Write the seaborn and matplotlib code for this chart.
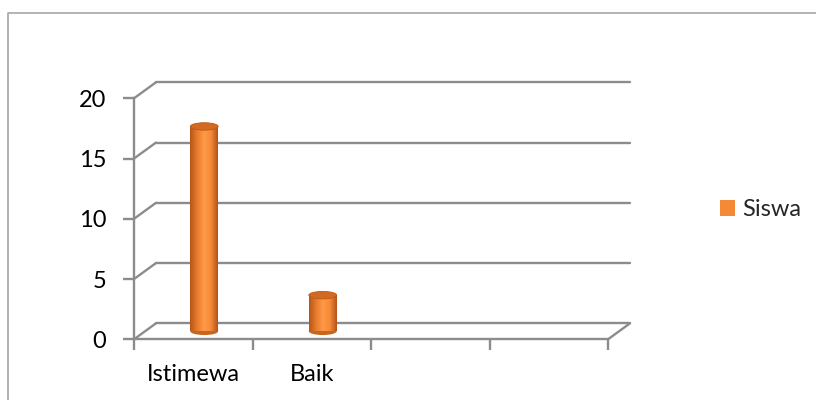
import numpy as np
import pandas as pd
import matplotlib
matplotlib.use("Agg")
import matplotlib.pyplot as plt
import matplotlib.transforms as mtransforms
from matplotlib.colors import LinearSegmentedColormap
from matplotlib.patches import Ellipse, Patch
from matplotlib.lines import Line2D
import seaborn as sns

# ---- data ----
categories = ["Istimewa", "Baik", "", " "]
siswa = [17, 3, np.nan, np.nan]
series_name = "Siswa"
y_ticks = [0, 5, 10, 15, 20]

sns.set_style("white")
plt.rcParams["font.family"] = ["Lato", "DejaVu Sans"]

GRAY = "#8c8c8c"
ORANGE = "#F28A36"
DX, DY = 22, 16  # 3D depth offset in pixels
FS = 17

fig = plt.figure(figsize=(8.16, 4.0), dpi=100)
ax = fig.add_axes([134 / 816, 60.7 / 400, 474 / 816, 241 / 400])

df = pd.DataFrame({"cat": categories, "val": siswa})
sns.barplot(data=df.dropna(), x="cat", y="val", order=categories, color=ORANGE,
            width=0.235, ax=ax, saturation=1)

ax.set_xlim(-0.5, len(categories) - 0.5)
ax.set_ylim(0, 20)

back = mtransforms.offset_copy(ax.transData, fig=fig, x=DX, y=DY, units="dots")
mid = mtransforms.offset_copy(ax.transData, fig=fig, x=DX / 2, y=DY / 2, units="dots")

x0, x1 = -0.5, len(categories) - 0.5
# back wall gridlines
for t in y_ticks:
    ax.plot([x0, x1], [t, t], color=GRAY, lw=1.7, transform=back, clip_on=False, zorder=1)
# side wall diagonals from front-left to back-left
for t in y_ticks:
    p0 = ax.transData.transform((x0, t))
    p1 = back.transform((x0, t))
    fig.add_artist(Line2D([p0[0] / 816, p1[0] / 816], [p0[1] / 400, p1[1] / 400],
                          color=GRAY, lw=1.7, zorder=1))
# floor right diagonal
p0 = ax.transData.transform((x1, 0))
p1 = back.transform((x1, 0))
fig.add_artist(Line2D([p0[0] / 816, p1[0] / 816], [p0[1] / 400, p1[1] / 400],
                      color=GRAY, lw=1.7, zorder=1))

# cylinder styling
cmap = LinearSegmentedColormap.from_list(
    "cyl", ["#B4561A", "#E67A2C", "#FF9A48", "#F58A36", "#B0521A"])
grad = np.linspace(0, 1, 256).reshape(1, -1)
ell_h = 0.62
for p in list(ax.patches):
    h = p.get_height()
    if not np.isfinite(h) or h == 0:
        continue
    p.set_transform(mid)
    p.set_edgecolor("none")
    bx, bw = p.get_x(), p.get_width()
    im = ax.imshow(grad, cmap=cmap, aspect="auto", extent=(bx, bx + bw, 0, h),
                   transform=mid, zorder=3, interpolation="bilinear")
    im.set_clip_path(p)
    ax.add_patch(Ellipse((bx + bw / 2, 0), bw, ell_h, transform=mid,
                         facecolor="#C8651F", edgecolor="none", zorder=2.9))
    ax.add_patch(Ellipse((bx + bw / 2, h), bw, ell_h, transform=mid,
                         facecolor="#D46A22", edgecolor="#B85A1A", lw=0.6, zorder=4))
ax.set_xlim(-0.5, len(categories) - 0.5)
ax.set_ylim(0, 20)

# axes
for s in ["top", "right"]:
    ax.spines[s].set_visible(False)
for s in ["left", "bottom"]:
    ax.spines[s].set_color(GRAY)
    ax.spines[s].set_linewidth(1.7)
    ax.spines[s].set_zorder(5)
ax.set_yticks(y_ticks)
ax.set_yticklabels([str(v) for v in y_ticks])
ax.set_xticks(np.arange(-0.5, len(categories), 1.0))
ax.set_xticklabels([])
ax.set_xticks(np.arange(len(categories)), minor=True)
ax.set_xticklabels(categories, minor=True)
ax.tick_params(axis="y", length=8, width=1.7, color=GRAY, pad=12, labelsize=FS,
               left=True, labelcolor="black")
ax.tick_params(axis="x", which="major", length=8, width=1.7, color=GRAY, bottom=True)
ax.tick_params(axis="x", which="minor", length=0, pad=18, labelsize=FS, labelcolor="black")
ax.set_xlabel("")
ax.set_ylabel("")
ax.grid(False)
ax.patch.set_alpha(0)

# legend
fig.legend(handles=[Patch(facecolor=ORANGE, edgecolor="none", label=series_name)],
           loc="center left", bbox_to_anchor=(720 / 816, 1 - 210 / 400), frameon=False,
           fontsize=FS, handlelength=0.64, handleheight=0.64, handletextpad=0.3,
           borderaxespad=0, borderpad=0)

# outer chart border
fig.add_artist(Line2D([8 / 816, 8 / 816, 1.0], [0.0, 1 - 13 / 400, 1 - 13 / 400],
                      color="#a6a6a6", lw=1.2))

fig.savefig("out.png", dpi=100)
